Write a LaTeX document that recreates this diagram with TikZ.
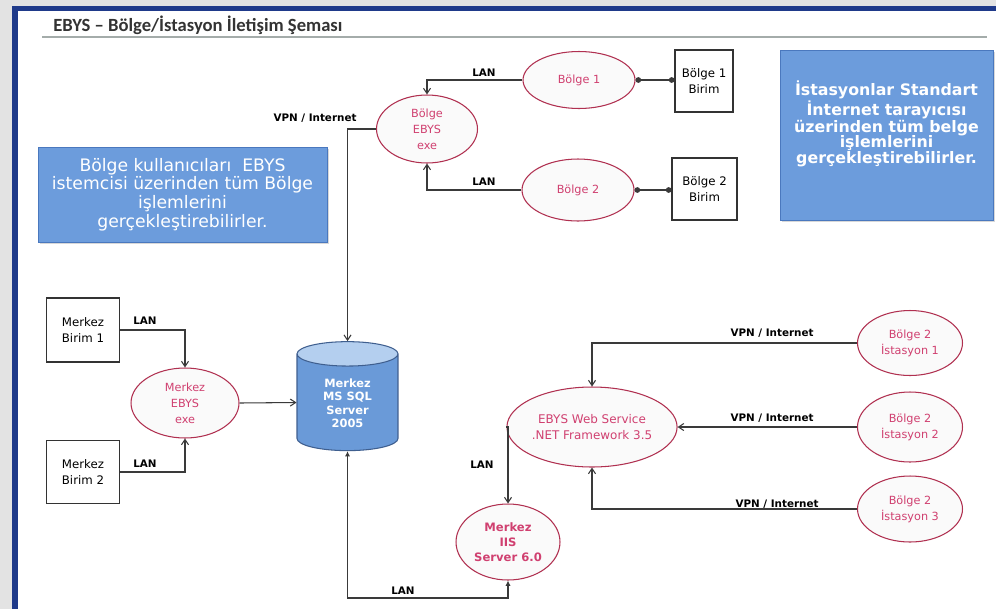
\documentclass[tikz,border=0pt]{standalone}
\usepackage{fontspec}
\setmainfont{DejaVu Sans}
\newfontfamily\titlefont{Carlito}
\usepackage{xcolor}
\usetikzlibrary{shapes.geometric}
\usetikzlibrary{arrows.meta}
\usetikzlibrary{shadows}
\newcommand\tightlines{\lineskiplimit=-20pt\relax\lineskip=0pt\relax}
\definecolor{framebl}{HTML}{1F3A8A}
\definecolor{notebl}{HTML}{6C9CDC}
\definecolor{noteedge}{HTML}{4A78BE}
\definecolor{nodered}{HTML}{B03050}
\definecolor{textpink}{HTML}{D04070}
\definecolor{linegray}{HTML}{3A3A3A}
\definecolor{rulegray}{HTML}{A4ACAA}
\definecolor{dbblue}{HTML}{6A9AD8}
\definecolor{dbtop}{HTML}{B4CFEF}
\definecolor{dbedge}{HTML}{3F5F8F}
\tikzset{
  proc/.style={ellipse, draw=nodered, line width=0.6pt, fill=gray!4, text=textpink,
    font=\fontsize{6.4}{9}\selectfont, align=center, inner sep=0pt},
  unit/.style={rectangle, draw=black!80, line width=0.6pt, fill=white,
    font=\fontsize{6.7}{9.2}\selectfont, align=center, inner sep=0pt},
  note/.style={rectangle, draw=noteedge, fill=notebl, text=white, align=center, inner sep=0pt,
    drop shadow={opacity=0.3, shadow xshift=1.2pt, shadow yshift=-1.2pt}},
  link/.style={draw=linegray, line width=0.6pt},
  tip/.style={-{Straight Barb[length=3pt,width=4pt]}},
  dotlink/.style={{Circle[length=3.2pt]}-{Circle[length=3.2pt]}},
  tag/.style={font=\bfseries\fontsize{5.9}{6.5}\selectfont, text=black, inner sep=1pt}
}
\begin{document}
\begin{tikzpicture}[x=0.02cm, y=-0.02cm]
  \useasboundingbox (0,0) rectangle (996,609);
  \fill[gray!22] (0,0) rectangle (996,609);
  \fill[framebl] (12,6) rectangle (996,609);
  \fill[white] (18,11) rectangle (996,609);
  \node[anchor=west, inner sep=0pt, text=black!80, font=\titlefont\bfseries\fontsize{10.6}{12}\selectfont]
    (title) at (53,25) {EBYS – Bölge/İstasyon İletişim Şeması};
  \draw[rulegray, line width=1.1pt] (42,37) -- (987,37);

  \node[note, minimum width=5.78cm, minimum height=1.9cm, font=\fontsize{9.8}{10.7}\selectfont]
    (noteb) at (182.5,194.5) {Bölge kullanıcıları\ \ EBYS\\istemcisi üzerinden tüm Bölge\\işlemlerini\\gerçekleştirebilirler.};
  \node[note, minimum width=4.26cm, minimum height=3.4cm, font=\bfseries\fontsize{9}{8.8}\selectfont]
    (notei) at (886.5,135) {\tightlines İstasyonlar Standart\\İnternet tarayıcısı\\üzerinden tüm belge\\işlemlerini\\gerçekleştirebilirler.\\[6pt]\mbox{}};

  \node[proc, minimum width=2.02cm, minimum height=1.36cm] (bexe) at (427,129) {Bölge\\EBYS\\exe};
  \node[proc, minimum width=2.24cm, minimum height=1.14cm] (bolge1) at (579,80) {Bölge 1};
  \node[proc, minimum width=2.24cm, minimum height=1.24cm] (bolge2) at (578,190) {Bölge 2};
  \node[unit, minimum width=1.16cm, minimum height=1.24cm] (bbirim1) at (704,81) {Bölge 1\\Birim};
  \node[unit, minimum width=1.3cm, minimum height=1.24cm] (bbirim2) at (704.5,189) {Bölge 2\\Birim};

  \node[unit, minimum width=1.46cm, minimum height=1.28cm] (mbirim1) at (83,330) {Merkez\\Birim 1};
  \node[unit, minimum width=1.46cm, minimum height=1.26cm] (mbirim2) at (83,472) {Merkez\\Birim 2};
  \node[proc, minimum width=2.16cm, minimum height=1.4cm] (mexe) at (185,403) {Merkez\\EBYS\\exe};
  \node[cylinder, shape border rotate=90, aspect=0.5, draw=dbedge, line width=0.6pt,
    cylinder uses custom fill, cylinder body fill=dbblue, cylinder end fill=dbtop,
    minimum width=2.02cm, minimum height=2.18cm, inner sep=0pt, text=white, align=center,
    font=\bfseries\fontsize{6.5}{7.6}\selectfont] (sql) at (347.5,402.5) {\mbox{}\\[-2pt]Merkez\\MS SQL\\Server\\2005};

  \node[proc, minimum width=2.08cm, minimum height=1.52cm, font=\bfseries\fontsize{6.6}{8.4}\selectfont]
    (iis) at (508,542) {Merkez\\IIS\\Server 6.0};
  \node[proc, minimum width=2.94cm, minimum height=1.6cm, font=\fontsize{6.8}{8.8}\selectfont]
    (wsrv) at (592,427) {EBYS Web Service\\.NET Framework 3.5};
  \node[proc, minimum width=2.1cm, minimum height=1.3cm] (ist1) at (910,343) {Bölge 2\\İstasyon 1};
  \node[proc, minimum width=2.1cm, minimum height=1.4cm] (ist2) at (910,427) {Bölge 2\\İstasyon 2};
  \node[proc, minimum width=2.1cm, minimum height=1.32cm] (ist3) at (910,509) {Bölge 2\\İstasyon 3};

  \coordinate (lanc) at (430,598);

  \draw[link, tip] (bexe.west) -| (sql.north);
  \draw[link, tip] (bolge1.west) -| (bexe.north);
  \draw[link, tip] (bolge2.west) -| (bexe.south);
  \draw[link, dotlink] (bolge1.east) -- (bbirim1.west |- bolge1.east);
  \draw[link, dotlink] (bolge2.east) -- (bbirim2.west |- bolge2.east);
  \draw[link, tip] (mbirim1.east) -| (mexe.north);
  \draw[link, tip] (mbirim2.east) -| (mexe.south);
  \draw[link, tip] (mexe.east) -- (sql.west);
  \draw[link, {Latex[length=3pt,width=3pt]}-{Latex[length=3pt,width=3pt]}] (sql.south) |- (lanc) -| (iis.south);
  \draw[link, tip] (wsrv.west) -| (iis.north);
  \draw[link, tip] (ist1.west) -| (wsrv.north);
  \draw[link, tip] (ist2.west) -- (wsrv.east);
  \draw[link, tip] (ist3.west) -| (wsrv.south);

  \node[tag] (t1) at (315,118) {VPN / Internet};
  \node[tag] (t2) at (484,73) {LAN};
  \node[tag] (t3) at (484,182) {LAN};
  \node[tag] (t4) at (145,321) {LAN};
  \node[tag] (t5) at (145,464) {LAN};
  \node[tag] (t6) at (482,465) {LAN};
  \node[tag] (t7) at (403,591) {LAN};
  \node[tag] (t8) at (772,333) {VPN / Internet};
  \node[tag] (t9) at (772,418) {VPN / Internet};
  \node[tag] (t10) at (777,504) {VPN / Internet};
\end{tikzpicture}
\end{document}
